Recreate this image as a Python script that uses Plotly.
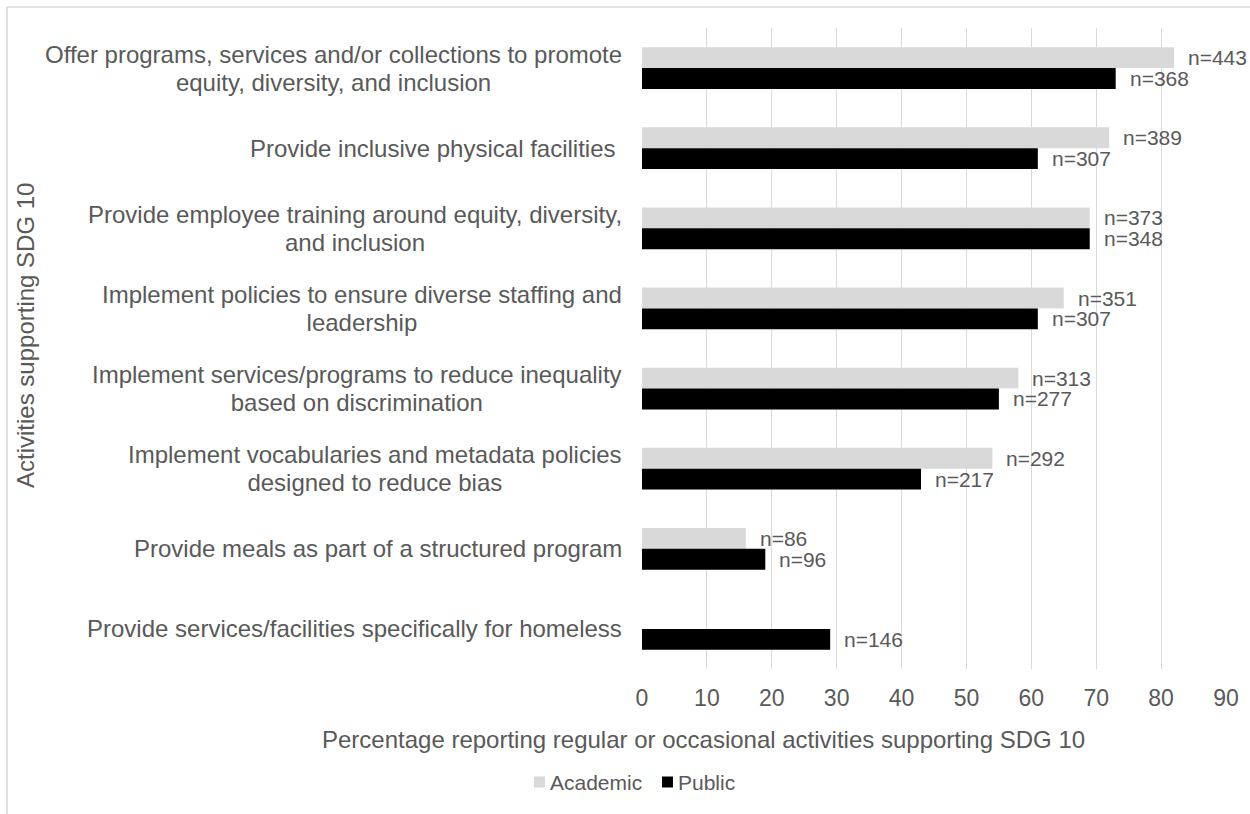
import plotly.graph_objects as go

# Activities (top to bottom); "\n" marks a line break in the label
activities = [
    "Offer programs, services and/or collections to promote\nequity, diversity, and inclusion",
    "Provide inclusive physical facilities\u00a0",
    "Provide employee training around equity, diversity,\nand inclusion",
    "Implement policies to ensure diverse staffing and\nleadership",
    "Implement services/programs to reduce inequality\nbased on discrimination",
    "Implement vocabularies and metadata policies\ndesigned to reduce bias",
    "Provide meals as part of a structured program",
    "Provide services/facilities specifically for homeless",
]

# Percentage reporting regular or occasional activities
academic_pct = [82, 72, 69, 65, 58, 54, 16, None]
public_pct = [73, 61, 69, 61, 55, 43, 19, 29]

# Respondent counts shown next to each bar
academic_n = [443, 389, 373, 351, 313, 292, 86, None]
public_n = [368, 307, 348, 307, 277, 217, 96, 146]

x_ticks = [0, 10, 20, 30, 40, 50, 60, 70, 80, 90]

series_names = ["Academic", "Public"]

FONT = "Liberation Sans, Arial, sans-serif"
TEXT = "#595959"
GRID = "#d9d9d9"
ACAD_COLOR = "#d9d9d9"
PUB_COLOR = "#000000"

W, H = 1250, 814
L, R, T, B = 642, 24, 28, 145
plot_w = W - L - R
plot_h = H - T - B


def px_x(px):
    return (px - L) / plot_w


def px_y(py):
    return (H - B - py) / plot_h


fig = go.Figure()
fig.add_trace(go.Bar(
    name=series_names[0], y=activities, x=academic_pct, orientation="h",
    marker=dict(color=ACAD_COLOR, line=dict(width=0)),
    hoverinfo="x+y", showlegend=False,
))
fig.add_trace(go.Bar(
    name=series_names[1], y=activities, x=public_pct, orientation="h",
    marker=dict(color=PUB_COLOR, line=dict(width=0)),
    hoverinfo="x+y", showlegend=False,
))

annotations = []
bar_half = 10.4
for values, counts, shift in ((academic_pct, academic_n, bar_half),
                              (public_pct, public_n, -bar_half)):
    for cat, v, n in zip(activities, values, counts):
        if v is None:
            continue
        annotations.append(dict(
            x=v, y=cat, xref="x", yref="y", text=f"n={n}", showarrow=False,
            xanchor="left", yanchor="middle", xshift=12, yshift=shift,
            font=dict(family=FONT, size=21, color=TEXT),
        ))

# Category labels: block right-aligned to the axis, lines centred.
# The base font size sets a tighter line pitch (~28 px); the span sets
# the rendered glyph size.
label_size = 24
line_pitch = 28
for cat in activities:
    lines = cat.split("\n")
    text = "<br>".join(
        f'<span style="font-size:{label_size}px">{ln}</span>' for ln in lines
    )
    annotations.append(dict(
        x=0, y=cat, xref="paper", yref="y", text=text,
        showarrow=False, xanchor="right", yanchor="middle", align="center",
        xshift=-18,
        font=dict(family=FONT, size=line_pitch / 1.3, color=TEXT),
    ))

# Axis titles
annotations.append(dict(
    x=px_x(703), y=px_y(739), xref="paper", yref="paper",
    text="Percentage reporting regular or occasional activities supporting SDG 10",
    showarrow=False, xanchor="center", yanchor="middle",
    font=dict(family=FONT, size=24, color=TEXT),
))
annotations.append(dict(
    x=px_x(25), y=px_y(336), xref="paper", yref="paper",
    text="Activities supporting SDG 10", textangle=-90,
    showarrow=False, xanchor="center", yanchor="middle",
    font=dict(family=FONT, size=24, color=TEXT),
))

shapes = [
    # chart-area border (top and left edges visible)
    dict(type="line", xref="paper", yref="paper",
         x0=px_x(7), x1=px_x(W + 10), y0=px_y(7), y1=px_y(7),
         line=dict(color=GRID, width=1.5)),
    dict(type="line", xref="paper", yref="paper",
         x0=px_x(7), x1=px_x(7), y0=px_y(7), y1=px_y(H + 10),
         line=dict(color=GRID, width=1.5)),
]

# Legend: colour key squares with their series names
legend_y = 782
for name, color, sq_left in ((series_names[0], ACAD_COLOR, 534),
                             (series_names[1], PUB_COLOR, 662)):
    shapes.append(dict(
        type="rect", xref="paper", yref="paper",
        x0=px_x(sq_left), x1=px_x(sq_left + 11),
        y0=px_y(legend_y + 5.5), y1=px_y(legend_y - 5.5),
        fillcolor=color, line=dict(width=0),
    ))
    annotations.append(dict(
        x=px_x(sq_left + 14), y=px_y(legend_y), xref="paper", yref="paper",
        text=name, showarrow=False, xanchor="left", yanchor="middle",
        font=dict(family=FONT, size=21, color=TEXT),
    ))

fig.update_layout(
    width=W, height=H,
    margin=dict(l=L, r=R, t=T, b=B, pad=0),
    paper_bgcolor="white", plot_bgcolor="white",
    barmode="group", bargap=0.48, bargroupgap=0,
    font=dict(family=FONT, size=21, color=TEXT),
    xaxis=dict(
        range=[0, 90], tickvals=x_ticks, showgrid=True, gridcolor=GRID,
        gridwidth=1, zeroline=False, showline=False, ticks="",
        ticklabelstandoff=13,
        tickfont=dict(family=FONT, size=23, color=TEXT), fixedrange=True,
    ),
    yaxis=dict(
        autorange="reversed", showticklabels=False, showgrid=False,
        zeroline=False, showline=False, ticks="",
    ),
    showlegend=False,
    annotations=annotations,
    shapes=shapes,
)

fig.write_html("out.html")
